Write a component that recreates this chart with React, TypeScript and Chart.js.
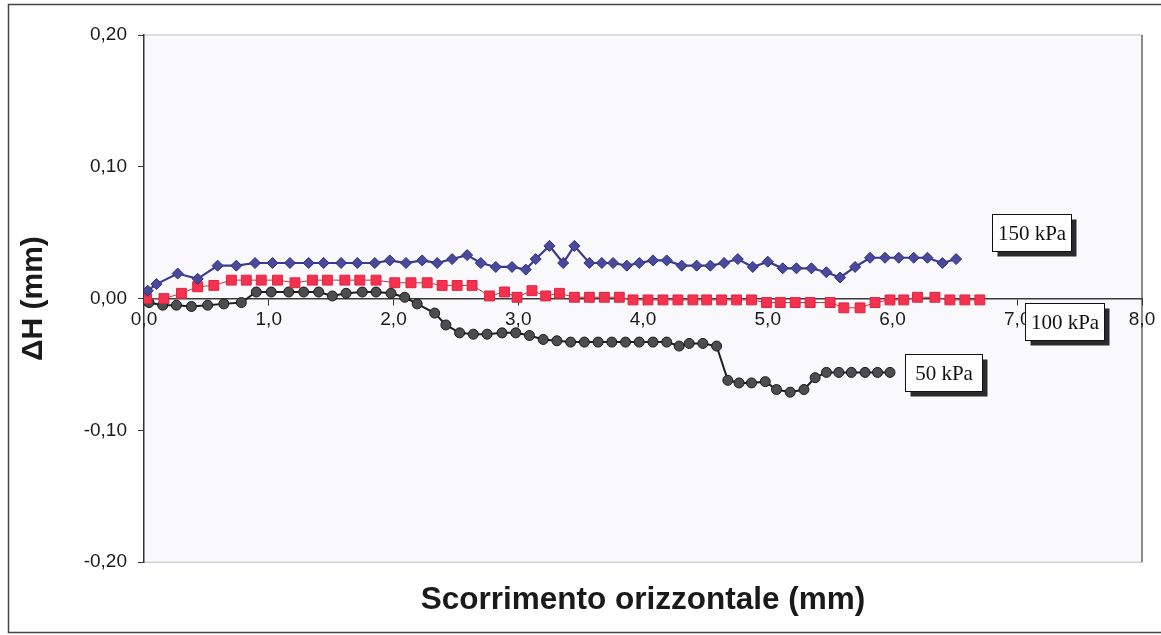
import React, { useEffect, useRef } from 'react';
import { Chart, registerables } from 'chart.js';

Chart.register(...registerables);

// ---- Data ----
const kpa150X = [0.03, 0.10, 0.27, 0.43, 0.59, 0.74, 0.89, 1.03, 1.17, 1.32, 1.44, 1.58, 1.71, 1.85, 1.97, 2.10, 2.23, 2.35, 2.47, 2.59, 2.70, 2.82, 2.95, 3.06, 3.14, 3.25, 3.36, 3.45, 3.57, 3.67, 3.76, 3.87, 3.97, 4.08, 4.19, 4.31, 4.43, 4.54, 4.65, 4.76, 4.88, 5.00, 5.12, 5.23, 5.35, 5.47, 5.58, 5.70, 5.82, 5.94, 6.05, 6.17, 6.28, 6.40, 6.51];
const kpa150Y = [0.006, 0.011, 0.019, 0.015, 0.025, 0.025, 0.027, 0.027, 0.027, 0.027, 0.027, 0.027, 0.027, 0.027, 0.029, 0.027, 0.029, 0.027, 0.030, 0.033, 0.027, 0.024, 0.024, 0.022, 0.030, 0.040, 0.027, 0.040, 0.027, 0.027, 0.027, 0.025, 0.027, 0.029, 0.029, 0.025, 0.025, 0.025, 0.027, 0.030, 0.024, 0.028, 0.023, 0.023, 0.023, 0.020, 0.016, 0.024, 0.031, 0.031, 0.031, 0.031, 0.031, 0.027, 0.030];

const kpa100X = [0.02, 0.16, 0.30, 0.43, 0.56, 0.70, 0.82, 0.94, 1.07, 1.21, 1.35, 1.47, 1.61, 1.73, 1.86, 2.01, 2.14, 2.27, 2.39, 2.51, 2.63, 2.77, 2.89, 2.99, 3.11, 3.22, 3.33, 3.45, 3.57, 3.69, 3.81, 3.92, 4.04, 4.16, 4.28, 4.40, 4.51, 4.63, 4.75, 4.87, 4.99, 5.10, 5.22, 5.34, 5.50, 5.61, 5.74, 5.86, 5.98, 6.09, 6.20, 6.34, 6.46, 6.58, 6.70];
const kpa100Y = [0.000, 0.000, 0.004, 0.009, 0.010, 0.014, 0.014, 0.014, 0.014, 0.012, 0.014, 0.014, 0.014, 0.014, 0.014, 0.012, 0.012, 0.012, 0.010, 0.010, 0.010, 0.002, 0.005, 0.001, 0.006, 0.002, 0.004, 0.001, 0.001, 0.001, 0.001, -0.001, -0.001, -0.001, -0.001, -0.001, -0.001, -0.001, -0.001, -0.001, -0.003, -0.003, -0.003, -0.003, -0.003, -0.007, -0.007, -0.003, -0.001, -0.001, 0.001, 0.001, -0.001, -0.001, -0.001];

const kpa50X = [0.00, 0.04, 0.15, 0.26, 0.38, 0.51, 0.64, 0.78, 0.90, 1.02, 1.16, 1.28, 1.40, 1.51, 1.62, 1.75, 1.86, 1.98, 2.09, 2.19, 2.33, 2.42, 2.53, 2.64, 2.75, 2.87, 2.98, 3.09, 3.20, 3.31, 3.42, 3.53, 3.64, 3.75, 3.86, 3.97, 4.08, 4.19, 4.29, 4.37, 4.48, 4.59, 4.68, 4.77, 4.87, 4.98, 5.07, 5.18, 5.29, 5.38, 5.47, 5.57, 5.67, 5.78, 5.88, 5.98];
const kpa50Y = [0.000, -0.003, -0.005, -0.005, -0.006, -0.005, -0.004, -0.003, 0.005, 0.005, 0.005, 0.005, 0.005, 0.002, 0.004, 0.005, 0.005, 0.004, 0.001, -0.004, -0.011, -0.020, -0.026, -0.027, -0.027, -0.026, -0.026, -0.028, -0.031, -0.032, -0.033, -0.033, -0.033, -0.033, -0.033, -0.033, -0.033, -0.033, -0.036, -0.034, -0.034, -0.036, -0.062, -0.064, -0.064, -0.063, -0.069, -0.071, -0.069, -0.060, -0.056, -0.056, -0.056, -0.056, -0.056, -0.056];

const seriesNames = ['150 kPa', '100 kPa', '50 kPa'];
// label box anchor (left edge x, vertical centre y) in data units
const labelX = [6.80, 7.06, 6.10];
const labelY = [0.050, -0.017, -0.056];

const xMin = 0, xMax = 8, xStep = 1;
const yMin = -0.2, yMax = 0.2, yStep = 0.1;
const xTitle = 'Scorrimento orizzontale (mm)';
const yTitle = 'ΔH (mm)';

const SANS = '"Liberation Sans", Arial, sans-serif';
const SERIF = '"Liberation Serif", "Times New Roman", serif';

const zip = (xs: number[], ys: number[]) => xs.map((x, i) => ({ x, y: ys[i] }));

const framePlugin = {
  id: 'frame',
  beforeDraw(chart: any) {
    const { ctx, chartArea: a } = chart;
    ctx.save();
    ctx.fillStyle = '#f9f9fc';
    ctx.fillRect(a.left, a.top, a.right - a.left, a.bottom - a.top);
    ctx.lineWidth = 1.5;
    ctx.strokeStyle = '#d2d2d8';
    ctx.beginPath();
    ctx.moveTo(a.left, a.top); ctx.lineTo(a.right, a.top);
    ctx.moveTo(a.left, a.bottom); ctx.lineTo(a.right, a.bottom);
    ctx.stroke();
    ctx.strokeStyle = '#666';
    ctx.beginPath();
    ctx.moveTo(a.right, a.top); ctx.lineTo(a.right, a.bottom);
    ctx.stroke();
    // outer chart frame
    ctx.strokeStyle = '#444';
    ctx.lineWidth = 1.5;
    ctx.beginPath();
    ctx.moveTo(chart.width, 4.5);
    ctx.lineTo(8.5, 4.5);
    ctx.lineTo(8.5, 632.5);
    ctx.lineTo(chart.width, 632.5);
    ctx.stroke();
    ctx.restore();
  },
};

const labelPlugin = {
  id: 'seriesLabels',
  afterDraw(chart: any) {
    const { ctx, scales } = chart;
    ctx.save();
    ctx.font = `21px ${SERIF}`;
    ctx.textBaseline = 'middle';
    ctx.textAlign = 'center';
    seriesNames.forEach((name, i) => {
      const left = Math.round(scales.x.getPixelForValue(labelX[i])) + 0.5;
      const cy = scales.y.getPixelForValue(labelY[i]);
      const w = Math.max(77, Math.ceil(ctx.measureText(name).width) + 10);
      const h = 37;
      const top = Math.round(cy - h / 2) + 0.5;
      ctx.fillStyle = '#2a2a2a';
      ctx.fillRect(left + 5, top + 5, w, h);
      ctx.fillStyle = '#ffffff';
      ctx.fillRect(left, top, w, h);
      ctx.strokeStyle = '#111';
      ctx.lineWidth = 1;
      ctx.strokeRect(left, top, w, h);
      ctx.fillStyle = '#111';
      ctx.fillText(name, left + w / 2, top + h / 2 + 1);
    });
    ctx.restore();
  },
};

export default function App() {
  const canvasRef = useRef<HTMLCanvasElement | null>(null);

  useEffect(() => {
    if (!canvasRef.current) return;
    const chart = new Chart(canvasRef.current, {
      type: 'line',
      data: {
        datasets: [
          {
            label: seriesNames[0],
            data: zip(kpa150X, kpa150Y),
            borderColor: '#3a3a90',
            backgroundColor: '#44449a',
            borderWidth: 2.2,
            pointStyle: 'rectRot',
            pointRadius: 5.5,
            pointBackgroundColor: '#4a4a9c',
            pointBorderColor: '#2e2e80',
            pointBorderWidth: 1,
            tension: 0,
          },
          {
            label: seriesNames[1],
            data: zip(kpa100X, kpa100Y),
            borderColor: '#b83a48',
            backgroundColor: '#f0304f',
            borderWidth: 1,
            pointStyle: 'rect',
            pointRadius: 7,
            pointBackgroundColor: '#f2324f',
            pointBorderColor: '#e0243f',
            pointBorderWidth: 1,
            tension: 0,
          },
          {
            label: seriesNames[2],
            data: zip(kpa50X, kpa50Y),
            borderColor: '#1e1e1e',
            backgroundColor: '#4a4a4a',
            borderWidth: 2,
            pointStyle: 'circle',
            pointRadius: 5,
            pointBackgroundColor: '#4d4d4d',
            pointBorderColor: '#1a1a1a',
            pointBorderWidth: 1,
            tension: 0,
          },
        ],
      },
      options: {
        animation: false,
        responsive: false,
        layout: { padding: { left: 0, right: 19, top: 35, bottom: 16 } },
        plugins: {
          legend: { display: false },
          tooltip: { enabled: false },
          title: {
            display: true,
            position: 'bottom',
            fullSize: false,
            text: xTitle,
            color: '#1a1a1a',
            font: { family: SANS, size: 31.5, weight: 'bold', lineHeight: 1.2 },
            padding: { top: 19, bottom: 0 },
          },
        },
        scales: {
          x: {
            type: 'linear',
            position: { y: 0 } as any,
            min: xMin,
            max: xMax,
            ticks: {
              stepSize: xStep,
              color: '#1a1a1a',
              font: { family: SANS, size: 19 },
              padding: 4,
              maxRotation: 0,
              callback: (v: any) => Number(v).toFixed(1).replace('.', ','),
            },
            grid: { display: true, drawOnChartArea: false, drawTicks: true, tickLength: 6, color: '#333', lineWidth: 1 },
            border: { display: true, color: '#3a3a3a', width: 1.5 },
          },
          y: {
            type: 'linear',
            position: 'left',
            min: yMin,
            max: yMax,
            afterFit: (s: any) => { s.width = 144; },
            ticks: {
              stepSize: yStep,
              color: '#1a1a1a',
              font: { family: SANS, size: 19 },
              padding: 11,
              callback: (v: any) => Number(v).toFixed(2).replace('.', ','),
            },
            grid: { display: true, drawOnChartArea: false, drawTicks: true, tickLength: 6, color: '#333', lineWidth: 1 },
            border: { display: true, color: '#333', width: 1.5 },
            title: {
              display: true,
              text: yTitle,
              color: '#1a1a1a',
              font: { family: SANS, size: 30, weight: 'bold', lineHeight: 1.2 },
              padding: { top: 16, bottom: 0 },
            },
          },
        },
      },
      plugins: [framePlugin, labelPlugin],
    } as any);
    return () => chart.destroy();
  }, []);

  return (
    <div style={{ position: 'absolute', left: 0, top: 0, width: 1161, height: 635, background: '#fff' }}>
      <canvas ref={canvasRef} width={1161} height={635} style={{ display: 'block' }} />
    </div>
  );
}
